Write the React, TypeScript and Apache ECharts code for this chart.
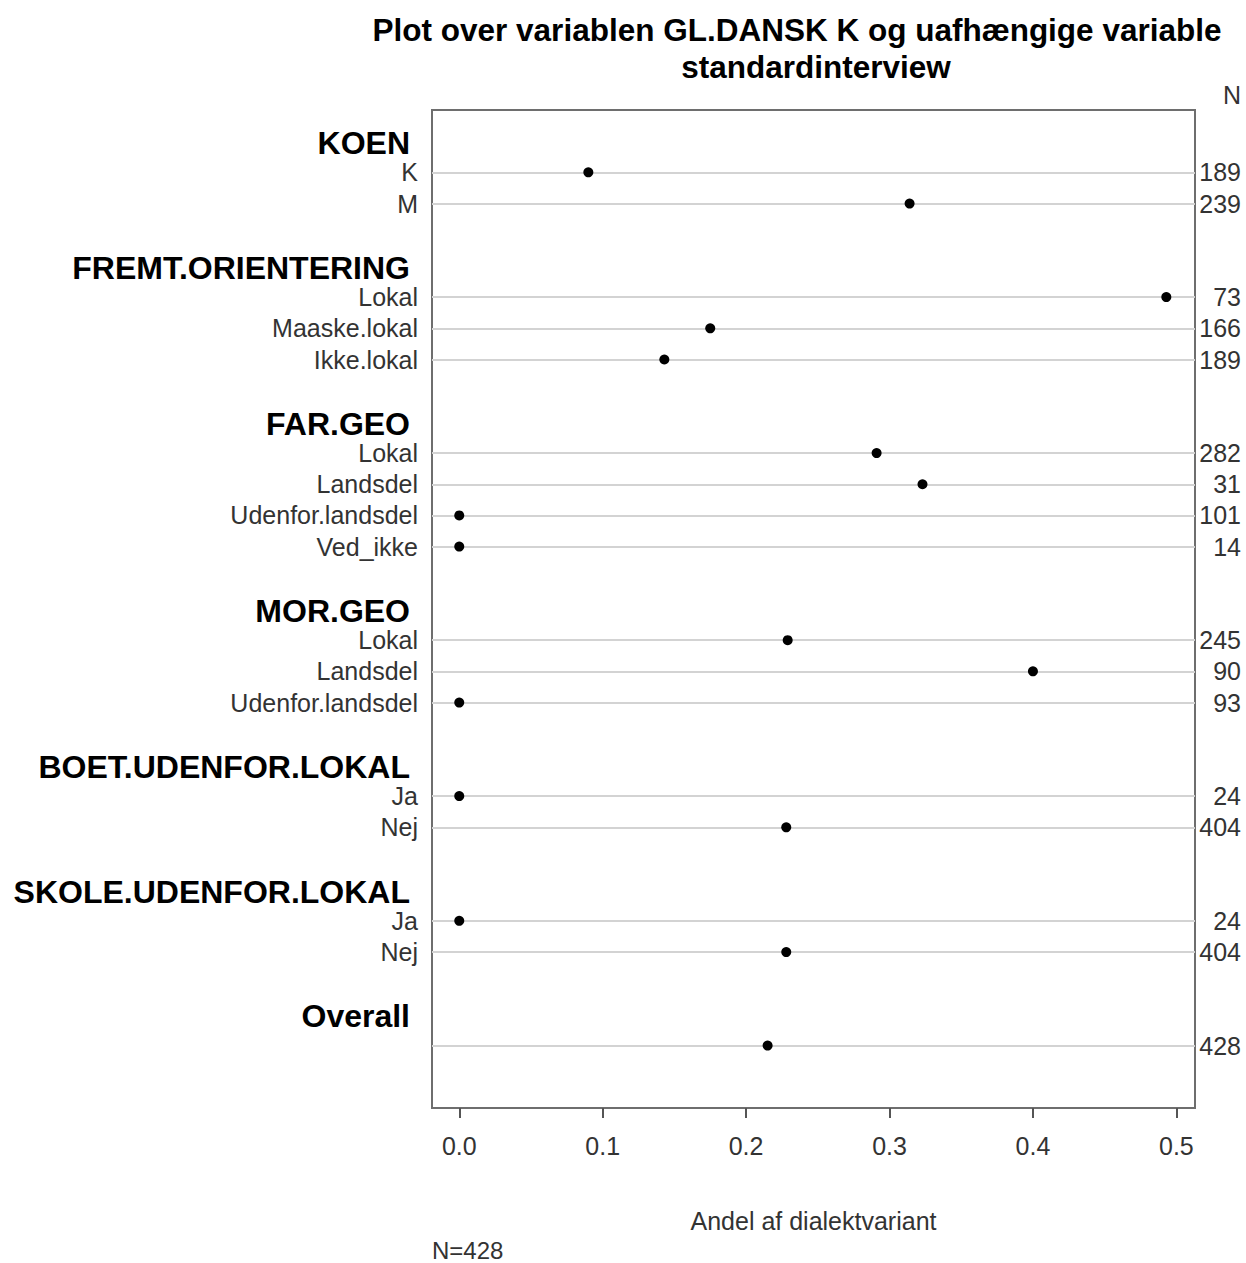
import React, { useEffect, useRef } from "react";
import * as echarts from "echarts";

// Grouping variables and their levels
const groups = [
  "KOEN",
  "FREMT.ORIENTERING",
  "FAR.GEO",
  "MOR.GEO",
  "BOET.UDENFOR.LOKAL",
  "SKOLE.UDENFOR.LOKAL",
  "Overall",
];
const levels = [
  ["K", "M"],
  ["Lokal", "Maaske.lokal", "Ikke.lokal"],
  ["Lokal", "Landsdel", "Udenfor.landsdel", "Ved_ikke"],
  ["Lokal", "Landsdel", "Udenfor.landsdel"],
  ["Ja", "Nej"],
  ["Ja", "Nej"],
  [""],
];
// Share of the dialect variant per level
const shares = [
  [0.09, 0.314],
  [0.493, 0.175, 0.143],
  [0.291, 0.323, 0, 0],
  [0.229, 0.4, 0],
  [0, 0.228],
  [0, 0.228],
  [0.215],
];
// Number of informants per level
const counts = [
  [189, 239],
  [73, 166, 189],
  [282, 31, 101, 14],
  [245, 90, 93],
  [24, 404],
  [24, 404],
  [428],
];
const xTicks = [0, 0.1, 0.2, 0.3, 0.4, 0.5];

const FONT = "'Liberation Sans', Arial, sans-serif";

// Lay the rows out: a header row per group, its levels, then a blank row
type Row = { row: number; label: string; header: boolean; n?: number; share?: number };
const rows: Row[] = [];
{
  let r = -1;
  groups.forEach((g, gi) => {
    rows.push({ row: r, label: g, header: true });
    r++;
    levels[gi].forEach((lv, li) => {
      rows.push({ row: r, label: lv, header: false, n: counts[gi][li], share: shares[gi][li] });
      r++;
    });
    r++;
  });
}
const dataRows = rows.filter((d) => !d.header);
const rowByIndex = new Map<number, Row>(rows.map((d) => [d.row, d]));

export default function App() {
  const ref = useRef<HTMLDivElement>(null);

  useEffect(() => {
    document.body.style.margin = "0";
    const chart = echarts.init(ref.current!, null, { renderer: "svg" });
    chart.setOption({
      animation: false,
      backgroundColor: "#ffffff",
      textStyle: { fontFamily: FONT },
      grid: {
        left: 432,
        top: 110,
        width: 763,
        height: 998,
        show: true,
        borderColor: "#6e6e6e",
        borderWidth: 2,
        backgroundColor: "transparent",
      },
      xAxis: {
        type: "value",
        min: -0.019,
        max: 0.513,
        axisLine: { show: false, onZero: false },
        splitLine: { show: false },
        axisTick: {
          show: true,
          inside: false,
          length: 10,
          customValues: xTicks,
          lineStyle: { color: "#555555", width: 2 },
        },
        axisLabel: {
          customValues: xTicks,
          formatter: (v: number) => v.toFixed(1),
          fontSize: 25,
          color: "#333333",
          margin: 25,
          fontFamily: FONT,
        },
        name: "Andel af dialektvariant",
        nameLocation: "middle",
        nameGap: 100,
        nameTextStyle: { fontSize: 25, color: "#333333", fontFamily: FONT },
      },
      yAxis: [
        {
          type: "value",
          min: -2,
          max: 30,
          interval: 1,
          inverse: true,
          axisLine: { show: false, onZero: false },
          axisTick: { show: false },
          splitLine: { show: false },
          axisLabel: {
            margin: 14,
            formatter: (v: number) => {
              const d = rowByIndex.get(v);
              if (!d || d.label === "") return "";
              return d.header ? `{h|${d.label}}` : `{i|${d.label}}`;
            },
            rich: {
              h: {
                fontSize: 32,
                lineHeight: 26,
                fontWeight: "bold",
                color: "#000000",
                padding: [4, 8, 0, 0],
                fontFamily: FONT,
              },
              i: { fontSize: 25, lineHeight: 25, color: "#333333", fontFamily: FONT },
            },
          },
        },
        {
          type: "value",
          position: "right",
          min: -2,
          max: 30,
          interval: 1,
          inverse: true,
          axisLine: { show: false, onZero: false },
          axisTick: { show: false },
          splitLine: { show: false },
          axisLabel: {
            margin: 46,
            align: "right",
            fontSize: 25,
            lineHeight: 25,
            color: "#333333",
            fontFamily: FONT,
            formatter: (v: number) => {
              const d = rowByIndex.get(v);
              return d && !d.header ? String(d.n) : "";
            },
          },
        },
      ],
      series: [
        {
          type: "line",
          data: [],
          silent: true,
          z: 1,
          markLine: {
            silent: true,
            symbol: "none",
            label: { show: false },
            lineStyle: { color: "#d3d3d3", width: 2, type: "solid" },
            data: dataRows.map((d) => ({ yAxis: d.row })),
          },
        },
        {
          type: "scatter",
          z: 5,
          symbol: "circle",
          symbolSize: 10,
          itemStyle: { color: "#000000", opacity: 1 },
          data: dataRows.map((d) => [d.share, d.row]),
        },
      ],
      graphic: [
        {
          type: "text",
          x: 797,
          y: 30,
          style: {
            text: "Plot over variablen GL.DANSK K og uafhængige variable",
            font: `bold 31.5px ${FONT}`,
            fill: "#000000",
            align: "center",
            verticalAlign: "middle",
          },
        },
        {
          type: "text",
          x: 816,
          y: 67,
          style: {
            text: "standardinterview",
            font: `bold 31.5px ${FONT}`,
            fill: "#000000",
            align: "center",
            verticalAlign: "middle",
          },
        },
        {
          type: "text",
          x: 1241,
          y: 95,
          style: {
            text: "N",
            font: `25px ${FONT}`,
            fill: "#333333",
            align: "right",
            verticalAlign: "middle",
          },
        },
        {
          type: "text",
          x: 432,
          y: 1250,
          style: {
            text: "N=428",
            font: `24px ${FONT}`,
            fill: "#333333",
            align: "left",
            verticalAlign: "middle",
          },
        },
      ],
    });
    return () => chart.dispose();
  }, []);

  return <div ref={ref} style={{ width: 1246, height: 1263 }} />;
}
